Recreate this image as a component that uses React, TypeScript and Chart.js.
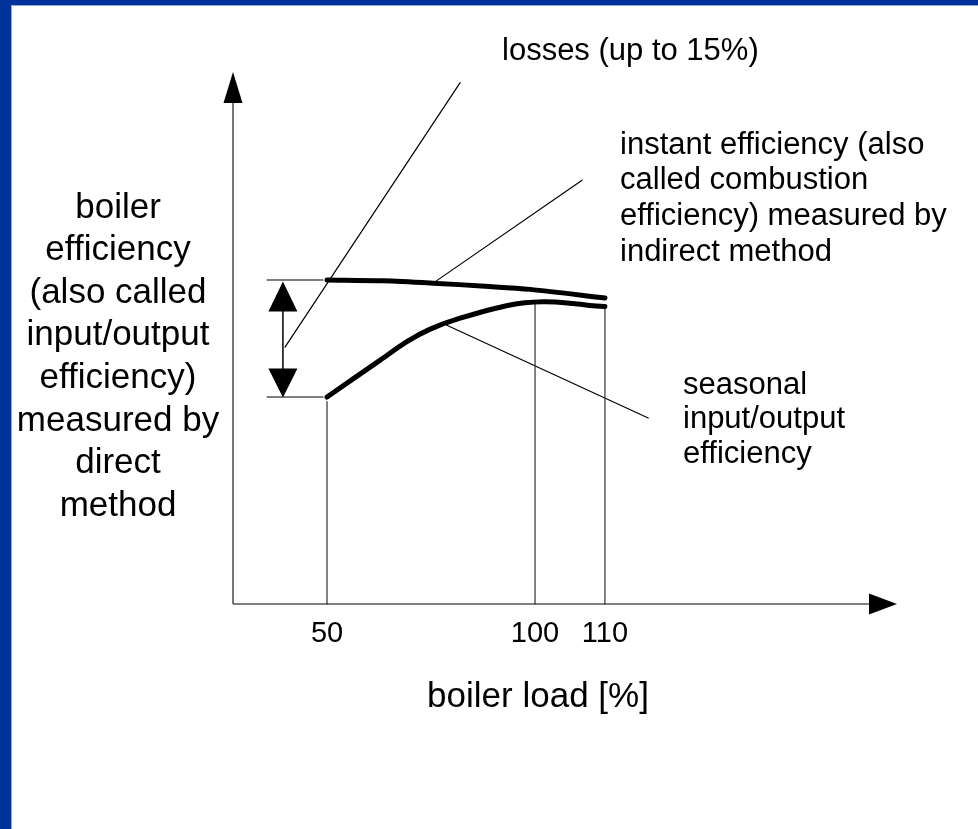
import { useEffect, useRef } from 'react';
import { Chart, registerables } from 'chart.js';

Chart.register(...registerables);

// ---------- data (schematic units: x = boiler load position, y = efficiency %) ----------
const X_MIN = 27.4;
const X_MAX = 187;
const Y_MIN = 48.46;
const Y_MAX = 116.67;

const tickLabels = ['50', '100', '110'];
const tickPos = [50, 100, 116.8];

const instantX = [50, 63.5, 75.5, 88, 98.8, 116.8];
const instantY = [90, 89.9, 89.6, 89.2, 88.8, 87.7];

const seasonalX = [50, 62.7, 69.2, 74.8, 82.0, 94.0, 101.9, 109.1, 113.9, 116.8];
const seasonalY = [75, 79.7, 82.1, 83.7, 85.1, 86.8, 87.2, 87.0, 86.7, 86.6];

const dropX = [50, 100, 116.8];
const dropTop = [74.4, 87.3, 86.5];

const refLevels = [90, 75];
const refStartX = 35.6;
const refEndX = 49.0;
const spanArrowX = 39.4;

const lossesLeaderX = [39.9, 82.0];
const lossesLeaderY = [81.4, 115.3];
const instantLeaderX = [75.5, 111.3];
const instantLeaderY = [89.6, 102.8];
const seasonalLeaderX = [78.8, 127.2];
const seasonalLeaderY = [84.2, 72.3];

const yTitleLines = ['boiler', 'efficiency', '(also called', 'input/output', 'efficiency)', 'measured by', 'direct', 'method'];
const instantLines = ['instant efficiency (also', 'called combustion', 'efficiency) measured by', 'indirect method'];
const seasonalLines = ['seasonal', 'input/output', 'efficiency'];
const lossesText = 'losses (up to 15%)';
const xTitle = 'boiler load [%]';

const FONT = '"Liberation Sans", Arial, Helvetica, sans-serif';

function pts(xs: number[], ys: number[]) {
  return xs.map((x, i) => ({ x, y: ys[i] }));
}

function line(xs: number[], ys: number[], width: number, color: string, tension = 0) {
  return {
    data: pts(xs, ys),
    showLine: true,
    borderColor: color,
    backgroundColor: color,
    borderWidth: width,
    pointRadius: 0,
    tension,
    borderCapStyle: 'round' as const,
    borderJoinStyle: 'round' as const,
    clip: false as const,
  };
}

function arrowHead(ctx: CanvasRenderingContext2D, tx: number, ty: number, dx: number, dy: number, len: number, halfW: number) {
  const bx = tx - dx * len;
  const by = ty - dy * len;
  const px = -dy;
  const py = dx;
  ctx.beginPath();
  ctx.moveTo(tx, ty);
  ctx.lineTo(bx + px * halfW, by + py * halfW);
  ctx.lineTo(bx - px * halfW, by - py * halfW);
  ctx.closePath();
  ctx.fillStyle = '#000';
  ctx.fill();
}

const schematicPlugin = {
  id: 'schematic',
  beforeDraw(chart: any) {
    const ctx: CanvasRenderingContext2D = chart.ctx;
    const W = chart.width;
    const H = chart.height;
    ctx.save();
    ctx.fillStyle = '#ffffff';
    ctx.fillRect(0, 0, W, H);
    ctx.fillStyle = '#003399';
    ctx.fillRect(0, 0, 11, H);
    ctx.fillRect(0, 0, W, 5);
    ctx.fillStyle = '#8fa6e0';
    ctx.fillRect(11, 5, 1, H - 5);
    ctx.fillRect(11, 5, W - 11, 1);
    ctx.restore();
  },
  beforeDatasetsDraw(chart: any) {
    const ctx: CanvasRenderingContext2D = chart.ctx;
    const { left, right, top, bottom } = chart.chartArea;
    ctx.save();
    ctx.strokeStyle = '#555';
    ctx.lineWidth = 1.6;
    // y axis
    ctx.beginPath();
    ctx.moveTo(left, bottom);
    ctx.lineTo(left, top + 25);
    ctx.stroke();
    // x axis
    ctx.beginPath();
    ctx.moveTo(left, bottom);
    ctx.lineTo(right - 22, bottom);
    ctx.stroke();
    ctx.restore();
  },
  afterDatasetsDraw(chart: any) {
    const ctx: CanvasRenderingContext2D = chart.ctx;
    const xs = chart.scales.x;
    const ys = chart.scales.y;
    const { left, right, top, bottom } = chart.chartArea;
    ctx.save();
    // axis arrows
    arrowHead(ctx, left, top, 0, -1, 31, 9.5);
    arrowHead(ctx, right, bottom, 1, 0, 28, 10.5);

    // span double arrow
    const ax = xs.getPixelForValue(spanArrowX);
    const yTop = ys.getPixelForValue(refLevels[0]) + 1.5;
    const yBot = ys.getPixelForValue(refLevels[1]) + 0.5;
    ctx.strokeStyle = '#000';
    ctx.lineWidth = 1.5;
    ctx.beginPath();
    ctx.moveTo(ax, yTop + 10);
    ctx.lineTo(ax, yBot - 10);
    ctx.stroke();
    arrowHead(ctx, ax, yTop, 0, -1, 30, 14.5);
    arrowHead(ctx, ax, yBot, 0, 1, 29, 14.5);

    // texts
    ctx.fillStyle = '#000';
    ctx.textBaseline = 'middle';

    // tick labels
    ctx.font = `29px ${FONT}`;
    ctx.textAlign = 'center';
    tickPos.forEach((v, i) => {
      ctx.fillText(tickLabels[i], xs.getPixelForValue(v), bottom + 30);
    });

    // x title
    ctx.font = `35px ${FONT}`;
    ctx.fillText(xTitle, 538, 697);

    // y title
    yTitleLines.forEach((t, i) => ctx.fillText(t, 118, 208 + i * 42.6));

    // annotations
    ctx.textAlign = 'left';
    ctx.font = `31px ${FONT}`;
    ctx.fillText(lossesText, 502, 51);
    instantLines.forEach((t, i) => ctx.fillText(t, 620, 145 + i * 35.7));
    seasonalLines.forEach((t, i) => ctx.fillText(t, 683, 385 + i * 34.5));
    ctx.restore();
  },
};

export default function App() {
  const ref = useRef<HTMLCanvasElement>(null);

  useEffect(() => {
    document.body.style.margin = '0';
    const canvas = ref.current;
    if (!canvas) return;

    const datasets: any[] = [
      line(instantX, instantY, 5, '#000', 0.3),
      line(seasonalX, seasonalY, 5, '#000', 0.3),
      ...dropX.map((x, i) => line([x, x], [dropTop[i], Y_MIN], 1.2, '#333')),
      ...refLevels.map((y) => line([refStartX, refEndX], [y, y], 1.5, '#555')),
      line(lossesLeaderX, lossesLeaderY, 1.2, '#000'),
      line(instantLeaderX, instantLeaderY, 1.2, '#000'),
      line(seasonalLeaderX, seasonalLeaderY, 1.2, '#000'),
    ];

    const chart = new Chart(canvas, {
      type: 'scatter',
      data: { datasets },
      options: {
        responsive: false,
        animation: false,
        devicePixelRatio: 1,
        events: [],
        layout: { padding: { left: 233, right: 81, top: 72, bottom: 225 } },
        scales: {
          x: { type: 'linear', display: false, min: X_MIN, max: X_MAX },
          y: { type: 'linear', display: false, min: Y_MIN, max: Y_MAX },
        },
        plugins: {
          legend: { display: false },
          tooltip: { enabled: false },
          title: { display: false },
        },
      },
      plugins: [schematicPlugin],
    });

    return () => chart.destroy();
  }, []);

  return (
    <div style={{ position: 'absolute', left: 0, top: 0, width: 978, height: 829 }}>
      <canvas ref={ref} width={978} height={829} style={{ display: 'block' }} />
    </div>
  );
}
